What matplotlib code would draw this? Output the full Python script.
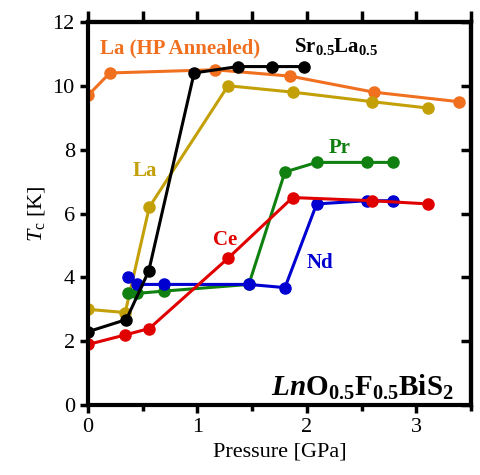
import matplotlib
matplotlib.use("Agg")
import matplotlib.pyplot as plt
from matplotlib.ticker import MultipleLocator, NullFormatter

plt.rcParams['font.family'] = ['Liberation Serif', 'DejaVu Serif']
plt.rcParams['mathtext.fontset'] = 'custom'
plt.rcParams['mathtext.rm'] = 'Liberation Serif'
plt.rcParams['mathtext.it'] = 'Liberation Serif:italic'
plt.rcParams['mathtext.bf'] = 'Liberation Serif:bold'
plt.rcParams['mathtext.bfit'] = 'Liberation Serif:italic:bold'

# Tc vs pressure for LnO0.5F0.5BiS2
la_hp_p = [0.0, 0.2, 1.16, 1.85, 2.61, 3.39]
la_hp_tc = [9.7, 10.4, 10.5, 10.3, 9.8, 9.5]

la_p = [0.0, 0.34, 0.56, 1.28, 1.87, 2.60, 3.11]
la_tc = [3.0, 2.9, 6.2, 10.0, 9.8, 9.5, 9.3]

srla_p = [0.0, 0.35, 0.555, 0.97, 1.37, 1.68, 1.97]
srla_tc = [2.3, 2.68, 4.2, 10.4, 10.6, 10.6, 10.6]

ce_p = [0.0, 0.34, 0.56, 1.28, 1.87, 2.60, 3.11]
ce_tc = [1.9, 2.2, 2.4, 4.6, 6.5, 6.4, 6.3]

pr_p = [0.37, 0.45, 0.69, 1.47, 1.80, 2.09, 2.55, 2.79]
pr_tc = [3.5, 3.5, 3.57, 3.78, 7.3, 7.6, 7.6, 7.6]

nd_p = [0.37, 0.45, 0.69, 1.47, 1.80, 2.09, 2.55, 2.79]
nd_tc = [4.0, 3.78, 3.78, 3.78, 3.68, 6.3, 6.4, 6.4]

c_orange = '#F07020'
c_gold = '#C4A008'
c_black = '#000000'
c_red = '#E00000'
c_green = '#108010'
c_blue = '#0000D0'

fig = plt.figure(figsize=(4.81, 4.75), dpi=100)
ax = fig.add_axes([0.183, 0.147, 0.796, 0.807])

kw = dict(marker='o', markersize=8, linewidth=2.2)
ax.plot(la_hp_p, la_hp_tc, color=c_orange, **kw)
ax.plot(la_p, la_tc, color=c_gold, **kw)
ax.plot(pr_p, pr_tc, color=c_green, **kw)
ax.plot(nd_p, nd_tc, color=c_blue, **kw)
ax.plot(ce_p, ce_tc, color=c_red, **kw)
ax.plot(srla_p, srla_tc, color=c_black, **kw)

fs = 15
ax.text(0.11, 11.18, 'La (HP Annealed)', color=c_orange, fontsize=fs, fontweight='bold', va='center')
ax.text(1.88, 11.22, r'$\mathbf{Sr}_{\mathbf{0.5}}\mathbf{La}_{\mathbf{0.5}}$', color=c_black, fontsize=fs, va='center')
ax.text(0.41, 7.33, 'La', color=c_gold, fontsize=fs, fontweight='bold', va='center')
ax.text(1.14, 5.18, 'Ce', color=c_red, fontsize=fs, fontweight='bold', va='center')
ax.text(2.2, 8.05, 'Pr', color=c_green, fontsize=fs, fontweight='bold', va='center')
ax.text(2.0, 4.45, 'Nd', color=c_blue, fontsize=fs, fontweight='bold', va='center')
ax.text(3.34, 0.3, r'$\mathbfit{Ln}\mathbf{O}_{\mathbf{0.5}}\mathbf{F}_{\mathbf{0.5}}\mathbf{BiS}_{\mathbf{2}}$',
        fontsize=21, ha='right', va='baseline')

ax.set_xlim(0, 3.5)
ax.set_ylim(0, 12)
ax.xaxis.set_major_locator(MultipleLocator(1))
ax.xaxis.set_minor_locator(MultipleLocator(0.5))
ax.yaxis.set_major_locator(MultipleLocator(2))

for s in ax.spines.values():
    s.set_linewidth(3)
ax.tick_params(which='both', direction='out', width=2.5, labelsize=16,
               top=False, right=False)
ax.tick_params(which='major', length=6)
ax.tick_params(which='minor', length=4)

# top ticks point out, every 0.5, no labels
top = ax.secondary_xaxis('top')
top.xaxis.set_major_locator(MultipleLocator(0.5))
top.xaxis.set_major_formatter(NullFormatter())
top.tick_params(direction='out', length=8, width=2.5)
top.spines['top'].set_linewidth(3)

# right ticks point in, no labels
right = ax.secondary_yaxis('right')
right.yaxis.set_major_locator(MultipleLocator(2))
right.yaxis.set_major_formatter(NullFormatter())
right.tick_params(direction='in', length=7, width=2.5)
right.spines['right'].set_linewidth(3)

ax.set_xlabel('Pressure [GPa]', fontsize=16)
ax.set_ylabel(r'$\mathit{T}_{\mathrm{c}}$ [K]', fontsize=16)

fig.savefig('out.png', dpi=100)
